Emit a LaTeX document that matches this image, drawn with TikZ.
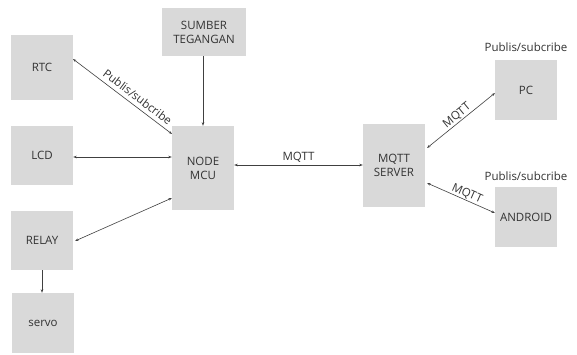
\documentclass[tikz,border=0pt]{standalone}
\usepackage{fontspec}
\setmainfont{Open Sans}
\usetikzlibrary{arrows.meta}
\begin{document}
\begin{tikzpicture}[x=1pt,y=-1pt,
  box/.style={fill=boxgray,draw=none,minimum width=62pt,text=txt,font=\fontsize{11.5}{14}\selectfont,align=center,inner sep=0pt},
  conn/.style={draw=lin,line width=0.6pt,{Stealth[length=3.5pt,width=2.5pt]}-{Stealth[length=3.5pt,width=2.5pt]}},
  one/.style={draw=lin,line width=0.6pt,-{Stealth[length=3.5pt,width=2.5pt]}},
  lbl/.style={text=txt,font=\fontsize{11.5}{14}\selectfont,inner sep=1pt}]
\definecolor{boxgray}{HTML}{D9D9D9}
\definecolor{txt}{HTML}{333333}
\definecolor{lin}{HTML}{404040}
\useasboundingbox (0,0) rectangle (577,355);
\fill[white] (0,0) rectangle (577,355);
\node[box,minimum height=65pt] (rtc) at (42,67.5) {RTC};
\node[box,minimum height=59pt] (lcd) at (42,155.5) {LCD};
\node[box,minimum width=84pt,minimum height=48pt] (sumber) at (204,32) {SUMBER\\TEGANGAN};
\node[box,minimum height=84pt] (mcu) at (203,168) {NODE\\MCU};
\node[box,minimum height=59pt] (relay) at (42,240.5) {RELAY};
\node[box,minimum height=60pt] (servo) at (43,323) {servo};
\node[box,minimum height=83pt] (server) at (394,165.5) {MQTT\\SERVER};
\node[box,minimum height=60pt] (pc) at (526,90) {PC};
\node[box,minimum height=60pt] (android) at (526,217) {ANDROID};
\node[lbl] (l1) at (526,47) {Publis/subcribe};
\node[lbl] (l2) at (526,176) {Publis/subcribe};
\coordinate (a1) at (73,59);
\coordinate (b1) at (172,134);
\draw[conn] (a1) -- node[lbl,sloped,above=3pt,pos=0.6] {Publis/subcribe} (b1);
\draw[conn] (lcd.east |- 0,157) coordinate (a2) -- (mcu.west |- a2);
\draw[one] (sumber.south -| 203,0) coordinate (a3) -- (mcu.north -| a3);
\coordinate (a4) at (75,241);
\coordinate (b4) at (172,198);
\draw[conn] (a4) -- (b4);
\draw[one] (relay.south -| 42,0) coordinate (a5) -- (servo.north -| a5);
\draw[conn] (mcu.east |- 0,165) coordinate (a6) -- node[lbl,above,yshift=1pt] {MQTT} (server.west |- a6);
\coordinate (a7) at (427,148);
\coordinate (b7) at (495,93);
\draw[conn] (a7) -- node[lbl,sloped,above,pos=0.5] {MQTT} (b7);
\coordinate (a8) at (427,183);
\coordinate (b8) at (495,213);
\draw[conn] (a8) -- node[lbl,sloped,above,pos=0.55] {MQTT} (b8);
\end{tikzpicture}
\end{document}
